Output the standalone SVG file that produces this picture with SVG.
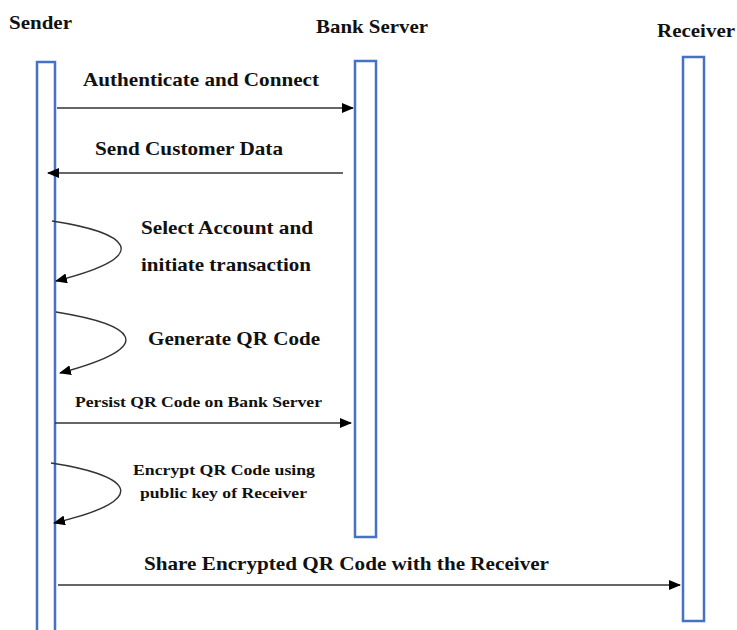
<svg xmlns="http://www.w3.org/2000/svg" width="737" height="630" viewBox="0 0 737 630">
<defs>
<style>
.t{font-family:"Liberation Serif","Times New Roman",serif;font-weight:bold;fill:#111}
.ll{fill:#fff;stroke:#4472C4;stroke-width:2.5}
.c{fill:none;stroke:#333;stroke-width:1.4}
</style>
<marker id="ah" markerWidth="12" markerHeight="10" refX="11" refY="5" orient="auto" markerUnits="userSpaceOnUse">
<path d="M0,0 L12,5 L0,10 Z" fill="#000"/>
</marker>
</defs>
<rect width="737" height="630" fill="#fff"/>
<g id="sender">
<rect class="ll" x="37" y="62" width="18" height="580"/>
<text class="t" x="9" y="29" font-size="19" textLength="63" lengthAdjust="spacingAndGlyphs">Sender</text>
</g>
<g id="bank-server">
<rect class="ll" x="355" y="61" width="21" height="476"/>
<text class="t" x="316" y="33" font-size="19" textLength="112" lengthAdjust="spacingAndGlyphs">Bank Server</text>
</g>
<g id="receiver">
<rect class="ll" x="683" y="57" width="21" height="564"/>
<text class="t" x="657" y="37" font-size="19" textLength="78" lengthAdjust="spacingAndGlyphs">Receiver</text>
</g>
<g id="connectors">
<path class="c" d="M57,108 L353,108" marker-end="url(#ah)"/>
<path class="c" d="M343,173 L48,173" marker-end="url(#ah)"/>
<path class="c" d="M52,221 C125,232 160,255 56,281" marker-end="url(#ah)"/>
<path class="c" d="M56,312 C130,324 165,345 60,373" marker-end="url(#ah)"/>
<path class="c" d="M55,423 L351,423" marker-end="url(#ah)"/>
<path class="c" d="M51,463 C125,474 160,498 54,523" marker-end="url(#ah)"/>
<path class="c" d="M58,585 L680,585" marker-end="url(#ah)"/>
</g>
<g id="labels">
<text class="t" x="83" y="86" font-size="19" textLength="236" lengthAdjust="spacingAndGlyphs">Authenticate and Connect</text>
<text class="t" x="95" y="155" font-size="19" textLength="188" lengthAdjust="spacingAndGlyphs">Send Customer Data</text>
<text class="t" x="141" y="234" font-size="19" textLength="172" lengthAdjust="spacingAndGlyphs">Select Account and</text>
<text class="t" x="141" y="271" font-size="19" textLength="170" lengthAdjust="spacingAndGlyphs">initiate transaction</text>
<text class="t" x="148" y="345" font-size="19" textLength="172" lengthAdjust="spacingAndGlyphs">Generate QR Code</text>
<text class="t" x="75" y="407" font-size="15.5" textLength="247" lengthAdjust="spacingAndGlyphs">Persist QR Code on Bank Server</text>
<text class="t" x="133" y="475" font-size="15" textLength="182" lengthAdjust="spacingAndGlyphs">Encrypt QR Code using</text>
<text class="t" x="140" y="498" font-size="15" textLength="167" lengthAdjust="spacingAndGlyphs">public key of Receiver</text>
<text class="t" x="144" y="570" font-size="19" textLength="405" lengthAdjust="spacingAndGlyphs">Share Encrypted QR Code with the Receiver</text>
</g>
</svg>
